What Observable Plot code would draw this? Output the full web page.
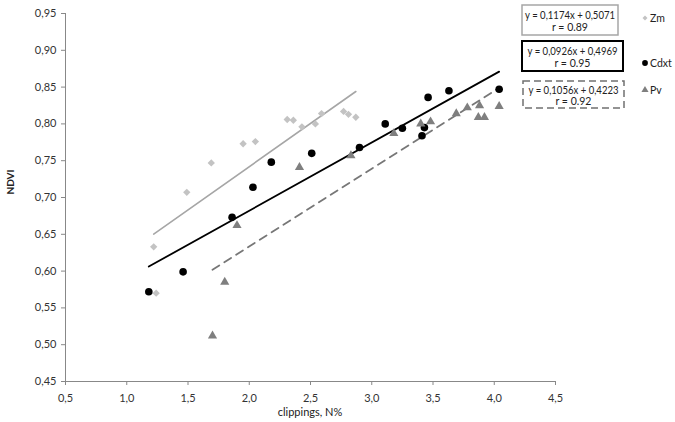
<!DOCTYPE html>
<html>
<head>
<meta charset="utf-8">
<script src="https://cdn.jsdelivr.net/npm/d3@7"></script>
<script src="https://cdn.jsdelivr.net/npm/@observablehq/plot@0.6"></script>
<style>
  html, body { margin: 0; padding: 0; background: #fff; }
  #chart { width: 675px; height: 422px; }
</style>
</head>
<body>
<div id="chart"></div>
<script>
// ---- data ----
const seriesNames = ["Zm", "Cdxt", "Pv"];
const zmX = [1.22, 1.24, 1.49, 1.69, 1.95, 2.05, 2.31, 2.36, 2.43, 2.54, 2.59, 2.77, 2.81, 2.87];
const zmY = [0.633, 0.570, 0.707, 0.747, 0.773, 0.776, 0.806, 0.805, 0.796, 0.800, 0.814, 0.817, 0.813, 0.809];
const cdX = [1.18, 1.46, 1.86, 2.03, 2.18, 2.51, 2.90, 3.11, 3.25, 3.41, 3.43, 3.46, 3.63, 4.04];
const cdY = [0.572, 0.599, 0.673, 0.714, 0.748, 0.760, 0.768, 0.800, 0.794, 0.784, 0.795, 0.836, 0.845, 0.847];
const pvX = [1.70, 1.80, 1.90, 2.41, 2.83, 3.18, 3.40, 3.48, 3.69, 3.78, 3.87, 3.88, 3.92, 4.04];
const pvY = [0.512, 0.585, 0.662, 0.741, 0.757, 0.787, 0.800, 0.803, 0.814, 0.822, 0.809, 0.825, 0.809, 0.824];
const slopes = [0.1174, 0.0926, 0.1056];
const intercepts = [0.5071, 0.4969, 0.4223];
const equationLabels = ["y = 0,1174x + 0,5071", "y = 0,0926x + 0,4969", "y = 0,1056x + 0,4223"];
const rLabels = ["r = 0.89", "r = 0.95", "r = 0.92"];
const xTicks = [0.5, 1.0, 1.5, 2.0, 2.5, 3.0, 3.5, 4.0, 4.5];
const yTicks = [0.45, 0.50, 0.55, 0.60, 0.65, 0.70, 0.75, 0.80, 0.85, 0.90, 0.95];

// ---- build tables ----
const xs = [zmX, cdX, pvX];
const ys = [zmY, cdY, pvY];
const points = [];
seriesNames.forEach((s, i) => xs[i].forEach((x, j) => points.push({series: s, x, y: ys[i][j]})));
const fits = [];
seriesNames.forEach((s, i) => {
  const [x0, x1] = d3.extent(xs[i]);
  [x0, x1].forEach(x => fits.push({series: s, x, y: slopes[i] * x + intercepts[i]}));
});

const colors = {Zm: "#c3c3c3", Cdxt: "#000000", Pv: "#7f7f7f"};
const lineColors = {Zm: "#a6a6a6", Cdxt: "#000000", Pv: "#777777"};
const symbols = {Zm: "diamond2", Cdxt: "circle", Pv: "triangle"};
const radii = {Zm: 3.3, Cdxt: 3.8, Pv: 3.4};
const comma = (d, n) => d.toFixed(n).replace(".", ",");
const font = "Lato, 'Open Sans', sans-serif";

const chart = Plot.plot({
  width: 675,
  height: 422,
  marginLeft: 65,
  marginRight: 120,
  marginTop: 13,
  marginBottom: 41,
  style: {fontFamily: font, fontSize: "11px", color: "#333", background: "#fff"},
  x: {domain: [0.5, 4.5]},
  y: {domain: [0.45, 0.95]},
  marks: [
    Plot.axisX({ticks: xTicks, tickFormat: d => comma(d, 1), tickSize: 4, tickPadding: 9, stroke: "#888", label: null}),
    Plot.axisY({ticks: yTicks, tickFormat: d => comma(d, 2), tickSize: 4, tickPadding: 5, stroke: "#888", label: null}),
    Plot.ruleX([0.5], {stroke: "#888", strokeWidth: 1}),
    Plot.ruleY([0.45], {stroke: "#888", strokeWidth: 1}),
    Plot.line(fits.filter(d => d.series === "Zm"), {x: "x", y: "y", stroke: lineColors.Zm, strokeWidth: 1.6}),
    Plot.line(fits.filter(d => d.series === "Cdxt"), {x: "x", y: "y", stroke: lineColors.Cdxt, strokeWidth: 1.8}),
    Plot.line(fits.filter(d => d.series === "Pv"), {x: "x", y: "y", stroke: lineColors.Pv, strokeWidth: 1.8, strokeDasharray: "8,6"}),
    ...seriesNames.map(s => Plot.dot(points.filter(d => d.series === s), {
      x: "x", y: "y", symbol: () => symbols[s], r: radii[s], fill: colors[s], stroke: "none"
    }))
  ]
});

document.getElementById("chart").appendChild(chart);

// ---- axis titles and equation legend ----
const svg = d3.select(chart);
svg.append("text").attr("x", 310).attr("y", 416).attr("text-anchor", "middle")
  .attr("font-family", font).attr("font-size", 11).attr("fill", "#222").text("clippings, N%");
svg.append("text").attr("transform", "translate(14,182) rotate(-90)").attr("text-anchor", "middle")
  .attr("font-family", font).attr("font-size", 10).attr("font-weight", "bold").attr("fill", "#222").text("NDVI");

const boxes = [
  {x: 522, y: 5, w: 96, h: 30, stroke: "#a6a6a6", sw: 1.5, dash: null, ly: 18},
  {x: 522, y: 41, w: 101, h: 30, stroke: "#000", sw: 2, dash: null, ly: 63},
  {x: 523, y: 81, w: 101, h: 27, stroke: "#707070", sw: 1.5, dash: "7,4", ly: 90}
];
boxes.forEach((b, i) => {
  svg.append("rect").attr("x", b.x).attr("y", b.y).attr("width", b.w).attr("height", b.h)
    .attr("fill", "#fff").attr("stroke", b.stroke).attr("stroke-width", b.sw)
    .attr("stroke-dasharray", b.dash);
  const cx = b.x + b.w / 2;
  svg.append("text").attr("x", cx).attr("y", b.y + b.h * 0.35).attr("dy", "0.35em")
    .attr("text-anchor", "middle").attr("font-family", font).attr("font-size", 10.5)
    .attr("textLength", 90).attr("lengthAdjust", "spacingAndGlyphs")
    .attr("fill", "#222").text(equationLabels[i]);
  svg.append("text").attr("x", cx).attr("y", b.y + b.h * 0.76).attr("dy", "0.35em")
    .attr("text-anchor", "middle").attr("font-family", font).attr("font-size", 10.5)
    .attr("fill", "#222").text(rLabels[i]);
  const s = seriesNames[i];
  const sym = d3.symbol().type(s === "Zm" ? d3.symbolDiamond2 : s === "Cdxt" ? d3.symbolCircle : d3.symbolTriangle)
    .size(s === "Zm" ? 16 : s === "Cdxt" ? 26 : 22);
  svg.append("path").attr("d", sym()).attr("transform", `translate(645,${b.ly})`)
    .attr("fill", colors[s]);
  svg.append("text").attr("x", 650).attr("y", b.ly).attr("dy", "0.35em").attr("text-anchor", "start")
    .attr("font-family", font).attr("font-size", 10.5).attr("fill", "#222").text(s);
});
</script>
</body>
</html>
